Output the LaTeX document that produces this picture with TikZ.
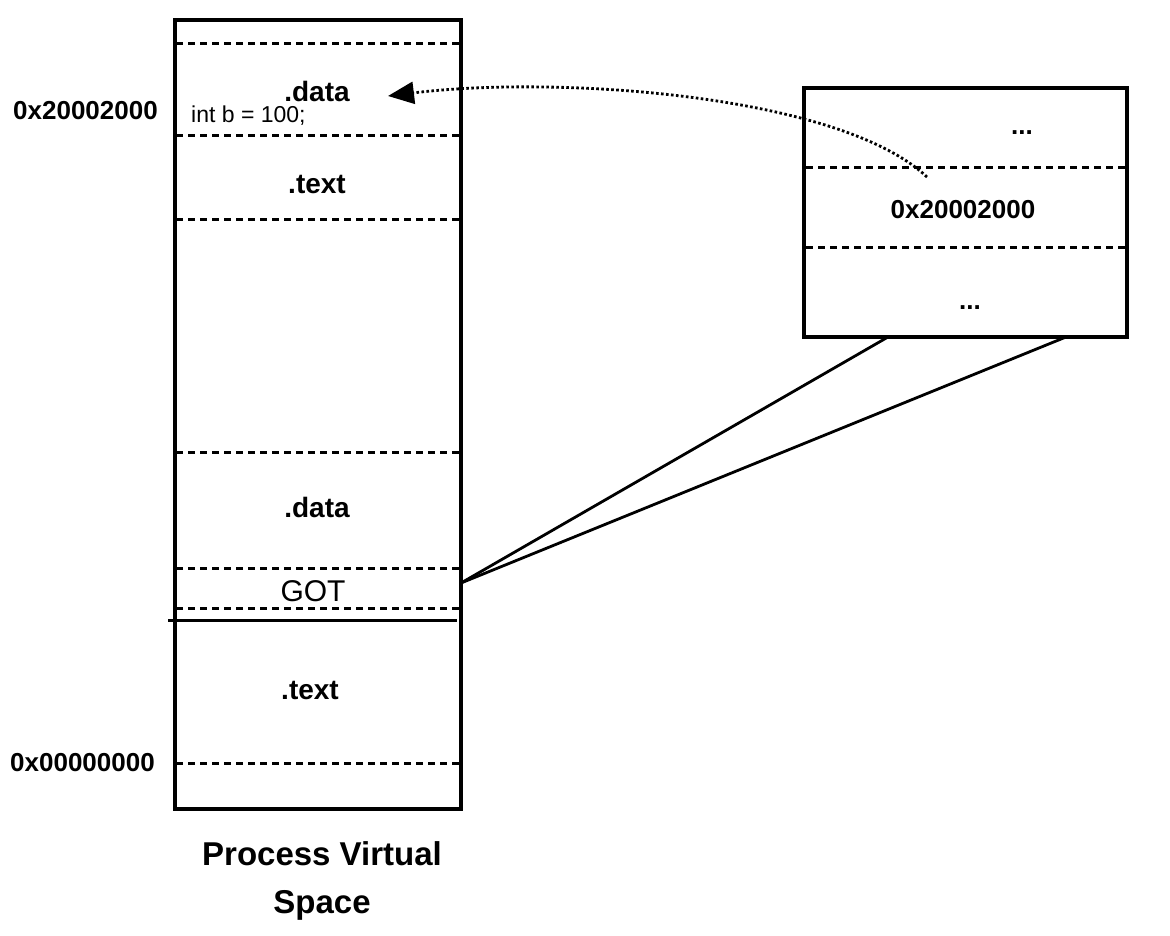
\documentclass[tikz,border=0pt]{standalone}
\usepackage{fontspec}
\setmainfont{Liberation Sans}
\usetikzlibrary{positioning, arrows.meta}

\begin{document}
\begin{tikzpicture}[
  x=1pt, y=-1pt,
  frame/.style={draw, line width=3.4pt},
  sep/.style={line width=3pt, dash pattern=on 7pt off 5pt},
  seg/.style={font=\fontsize{28}{32}\selectfont\bfseries, inner sep=0pt},
  addr/.style={font=\fontsize{26}{30}\selectfont\bfseries, inner sep=0pt},
  plain/.style={font=\fontsize{26}{30}\selectfont, inner sep=0pt},
  link/.style={line width=2.8pt},
  ptr/.style={line width=2.8pt, dash pattern=on 2.6pt off 2.4pt,
              -{Triangle[length=26pt, width=22pt]}}
]
  \useasboundingbox (0,0) rectangle (1170,936);

  % process virtual space
  \draw[frame] (175,20) rectangle (461,809);
  \foreach \y in {44,136,220,452,568,608,763}
    \draw[sep] (176,\y) -- (460,\y);
  \draw[line width=3pt] (168,620) -- (457,620);

  \node[seg]                      (dataTop)  at (317,91)  {.data};
  \node[plain, font=\fontsize{23}{26}\selectfont, anchor=base west] (varB) at (191,123) {int b = 100;};
  \node[seg]                      (textTop)  at (317,185) {.text};
  \node[seg]                      (dataLow)  at (317,507) {.data};
  \node[plain, font=\fontsize{30}{34}\selectfont] (got) at (313,591) {GOT};
  \node[seg]                      (textLow)  at (310,690) {.text};

  \node[addr, anchor=base east]   (addrB)    at (158,120) {0x20002000};
  \node[addr, anchor=base east]   (addrZero) at (155,771) {0x00000000};

  \node[font=\fontsize{33}{40}\selectfont\bfseries, anchor=base] (capTop) at (322,865) {Process Virtual};
  \node[font=\fontsize{33}{40}\selectfont\bfseries, anchor=base] (capBot) at (322,913) {Space};

  % GOT table
  \draw[frame] (804,88) rectangle (1127,337);
  \draw[sep] (806,168) -- (1125,168);
  \draw[sep] (806,248) -- (1125,248);

  \node[addr, anchor=base] (dotsTop) at (1022,135) {...};
  \node[addr]              (cell)    at (963,210)  {0x20002000};
  \node[addr, anchor=base] (dotsBot) at (970,309)  {...};

  \coordinate (gotR) at (461,583);
  \coordinate (tblL) at (888,337);
  \coordinate (tblR) at (1066,337);
  \draw[link] (gotR) -- (tblL);
  \draw[link] (gotR) -- (tblR);

  \coordinate (slot) at (927,177);
  \coordinate (tip)  at (388,96);
  \draw[ptr] (slot) .. controls (840,95) and (560,75) .. (tip);
\end{tikzpicture}
\end{document}
